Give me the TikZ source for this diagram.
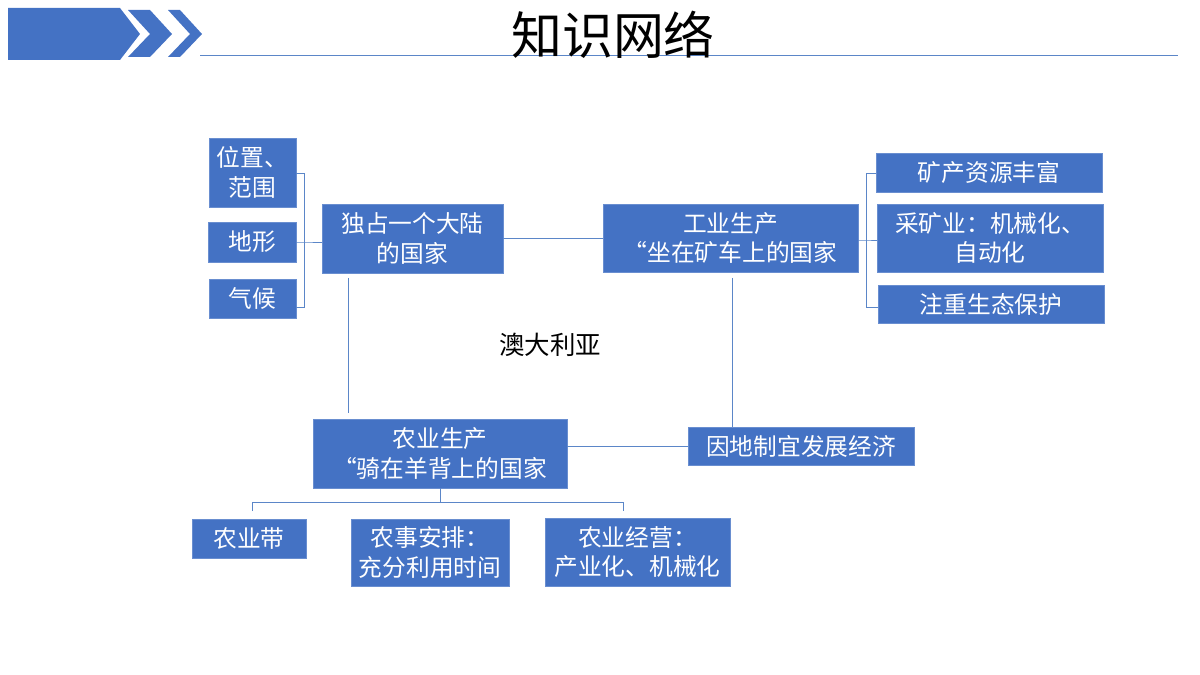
\documentclass[tikz,border=0pt]{standalone}
\usepackage{fontspec}
\setmainfont{Noto Sans CJK SC}
\definecolor{boxblue}{HTML}{4472C4}
\definecolor{lineblue}{HTML}{5B86C8}
\begin{document}
\begin{tikzpicture}[
    x=0.02cm, y=-0.02cm,
    block/.style={
        rectangle,
        draw=boxblue!80!white,
        fill=boxblue,
        text=white,
        inner sep=0pt,
        align=center,
        font=\fontsize{13.5}{17}\selectfont
    },
    link/.style={
        draw=lineblue,
        thin
    }
]
\useasboundingbox (0,0) rectangle (1200,675);

% Kopfzeile
\fill[boxblue] (8,8) -- (120,8) -- (140,34) -- (120,60) -- (8,60) -- cycle;
\fill[boxblue] (128,10) -- (150,10) -- (172,34) -- (150,57) -- (128,57) -- (150,34) -- cycle;
\fill[boxblue] (168,10) -- (180,10) -- (202,34) -- (180,57) -- (168,57) -- (190,34) -- cycle;
\draw[link] (200,55) -- (1178,55);
\node[font=\fontsize{29}{30}\selectfont] (title) at (613,35) {知识网络};

% linke Seite
\node[block, text width=1.74cm, minimum height=1.38cm] (pos) at (252.5,172.5) {位置、\\范围};
\node[block, text width=1.76cm, minimum height=0.8cm] (relief) at (252,242) {地形};
\node[block, text width=1.74cm, minimum height=0.78cm] (climate) at (252.5,298.5) {气候};
\node[block, text width=3.62cm, minimum height=1.38cm] (cont) at (412.5,238.5) {独占一个大陆\\的国家};

% rechte Seite
\node[block, text width=5.1cm, minimum height=1.36cm] (ind) at (730.5,238) {工业生产\\“坐在矿车上的国家};
\node[block, text width=4.52cm, minimum height=0.78cm] (ore) at (989,172.5) {矿产资源丰富};
\node[block, text width=4.52cm, minimum height=1.36cm] (mine) at (990,238) {采矿业：机械化、\\自动化};
\node[block, text width=4.52cm, minimum height=0.76cm] (eco) at (991,304) {注重生态保护};

% Mitte
\node[font=\fontsize{14.5}{16}\selectfont] (au) at (550,345) {澳大利亚};
\node[block, text width=5.08cm, minimum height=1.38cm] (agr) at (440,453.5) {农业生产\\“骑在羊背上的国家};
\node[block, text width=4.52cm, minimum height=0.76cm] (adapt) at (801,446) {因地制宜发展经济};

% unten
\node[block, text width=2.28cm, minimum height=0.78cm] (belt) at (249,538.5) {农业带};
\node[block, text width=3.16cm, minimum height=1.34cm] (farm) at (430,552.5) {农事安排：\\充分利用时间};
\node[block, text width=3.7cm, minimum height=1.36cm] (mgmt) at (637.5,552) {农业经营：\\产业化、机械化};

% Verbindungen
\coordinate (lb) at (304,242);
\draw[link] (pos.east |- 0,173) -- (304,173) -- (304,307) -- (climate.east |- 0,307);
\draw[link] (relief.east) -- (lb) -- (cont.west |- lb);
\draw[link] (cont.east) -- (ind.west |- cont.east);
\coordinate (rb) at (866,240);
\draw[link] (ore.west |- 0,173) -- (866,173) -- (866,307) -- (eco.west |- 0,307);
\draw[link] (ind.east |- rb) -- (rb) -- (mine.west |- rb);
\draw[link] (348,278) -- (348,413);
\draw[link] (732,278) -- (adapt.north -| 732,0);
\draw[link] (agr.east |- adapt) -- (adapt.west);
\coordinate (bj) at (440,502);
\draw[link] (agr.south) -- (bj);
\draw[link] (252,511) -- (252,502) -- (623,502) -- (623,511);
\end{tikzpicture}
\end{document}
